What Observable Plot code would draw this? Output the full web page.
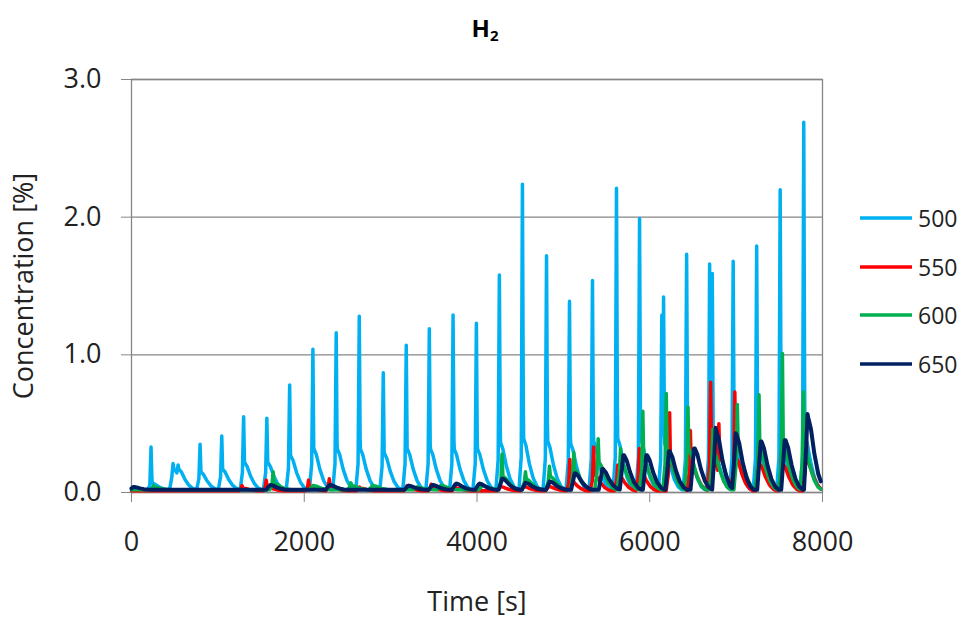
<!DOCTYPE html>
<html><head><meta charset="utf-8">
<script src="https://cdn.jsdelivr.net/npm/d3@7"></script>
<script src="https://cdn.jsdelivr.net/npm/@observablehq/plot@0.6"></script>
<style>
body{margin:0;background:#fff;font-family:"Open Sans",sans-serif;}
#wrap{position:relative;width:963px;height:618px;overflow:hidden;background:#fff;}
#title{position:absolute;left:0;top:16px;width:970px;text-align:center;font-weight:bold;font-size:24px;line-height:1;color:#000;}
#title sub{font-size:15px;vertical-align:-4px;line-height:1;}
.item{position:absolute;left:858px;height:30px;display:flex;align-items:center;font-size:23px;color:#222;white-space:nowrap;}
.item svg{margin-right:4px;}
#chart{position:absolute;left:0;top:0;}
</style>
</head><body>
<div id="wrap">
  <div id="chart"></div>
  <div id="title">H<sub>2</sub></div>
</div>
<script>
// ---- series ----
const seriesNames  = ["500", "550", "600", "650"];
const seriesColors = ["#00B0F0", "#FF0000", "#00B050", "#002060"];
const baseLevels   = [0.02, 0.012, 0.02, 0.02];

// ---- axis ticks ----
const xTicks = [0, 2000, 4000, 6000, 8000];
const yTicks = [0, 1, 2, 3];
const tEnd = 7980;

// ---- pulse shapes (dt in s, fraction) ----
const spikeShape = [[-14, 0], [0, 1], [14, 0]];
const bodyShape  = [[-40, 0], [-15, 0.6], [10, 1], [40, 0.85], [80, 0.5], [125, 0.22], [170, 0.06], [210, 0]];

// ---- 500 ----
const t500 = [226, 481, 539, 794, 1045, 1298, 1567, 1831, 2100, 2370, 2637, 2915, 3181, 3448, 3723, 3993, 4259, 4526, 4805, 5071, 5337, 5615, 5882, 6140, 6160, 6427, 6693, 6724, 6966, 7238, 7510, 7783];
const peak500 = [0.33, 0.21, 0.20, 0.35, 0.41, 0.55, 0.54, 0.78, 1.04, 1.16, 1.28, 0.87, 1.07, 1.19, 1.29, 1.23, 1.58, 2.24, 1.72, 1.39, 1.54, 2.21, 1.99, 1.29, 1.42, 1.73, 1.66, 1.59, 1.68, 1.79, 2.20, 2.69];
const body500 = [0.05, 0.15, 0.15, 0.13, 0.15, 0.2, 0.2, 0.25, 0.3, 0.3, 0.3, 0.27, 0.3, 0.3, 0.3, 0.3, 0.35, 0.38, 0.36, 0.34, 0.36, 0.38, 0.38, 0.34, 0.34, 0.36, 0.36, 0.36, 0.36, 0.36, 0.38, 0.4];

// ---- 550 ----
const t550 = [1280, 1560, 2050, 2290, 2640, 3190, 3470, 3750, 4270, 4540, 4830, 5075, 5350, 5630, 5880, 6230, 6470, 6705, 6800, 6985, 7260, 7530, 7810];
const peak550 = [0.05, 0.09, 0.09, 0.10, 0.04, 0.05, 0.06, 0.04, 0.05, 0.06, 0.06, 0.24, 0.33, 0.20, 0.32, 0.58, 0.45, 0.80, 0.50, 0.73, 0.35, 0.35, 0.45];
const body550 = [0.02, 0.03, 0.03, 0.03, 0.02, 0.02, 0.02, 0.02, 0.03, 0.03, 0.03, 0.08, 0.12, 0.12, 0.15, 0.2, 0.2, 0.3, 0.25, 0.25, 0.2, 0.2, 0.22];

// ---- 600 ----
const t600 = [255, 1640, 2100, 2540, 2790, 3300, 3580, 4060, 4290, 4561, 4839, 5121, 5403, 5662, 5920, 6191, 6442, 6731, 7014, 7265, 7536, 7779];
const peak600 = [0.05, 0.15, 0.05, 0.07, 0.05, 0.04, 0.05, 0.05, 0.28, 0.15, 0.19, 0.29, 0.39, 0.32, 0.59, 0.72, 0.62, 0.46, 0.64, 0.71, 1.01, 0.73];
const body600 = [0.02, 0.05, 0.03, 0.03, 0.03, 0.02, 0.03, 0.03, 0.1, 0.08, 0.1, 0.15, 0.2, 0.2, 0.22, 0.3, 0.3, 0.28, 0.3, 0.3, 0.32, 0.32];

// ---- 650 ----
const t650 = [20, 1600, 2290, 3200, 3480, 3750, 4020, 4290, 4560, 4840, 5130, 5450, 5693, 5960, 6222, 6512, 6763, 6995, 7284, 7562, 7826];
const peak650 = [0.04, 0.05, 0.05, 0.04, 0.05, 0.06, 0.06, 0.10, 0.07, 0.08, 0.14, 0.17, 0.27, 0.27, 0.30, 0.32, 0.47, 0.43, 0.37, 0.38, 0.57];
const body650 = [0.02, 0.035, 0.035, 0.03, 0.035, 0.045, 0.045, 0.08, 0.05, 0.06, 0.12, 0.15, 0.25, 0.25, 0.28, 0.30, 0.42, 0.40, 0.35, 0.36, 0.52];

const lineWidths = [3.5, 3.5, 3.5, 4];

const eventTimes = [t500, t550, t600, t650];
const eventPeaks = [peak500, peak550, peak600, peak650];
const eventBodies = [body500, body550, body600, body650];

function shapeAt(shape, dt) {
  if (dt <= shape[0][0] || dt >= shape[shape.length - 1][0]) return 0;
  for (let i = 1; i < shape.length; i++) {
    const [x1, y1] = shape[i];
    const [x0, y0] = shape[i - 1];
    if (dt <= x1) return y0 + (y1 - y0) * (dt - x0) / (x1 - x0);
  }
  return 0;
}

const table = seriesNames.map((name, s) => {
  const ts = eventTimes[s], hs = eventPeaks[s], bs = eventBodies[s], base = baseLevels[s];
  const keys = new Set([0, tEnd]);
  ts.forEach(te => {
    spikeShape.forEach(([dt]) => keys.add(te + dt));
    bodyShape.forEach(([dt]) => keys.add(te + dt));
  });
  const times = [...keys].filter(t => t >= 0 && t <= tEnd).sort((a, b) => a - b);
  return times.map(t => {
    let v = 0;
    ts.forEach((te, i) => {
      v = Math.max(v, (hs[i] - base) * shapeAt(spikeShape, t - te), bs[i] * shapeAt(bodyShape, t - te));
    });
    return {series: name, t, v: base + v};
  });
});

const chart = Plot.plot({
  width: 963, height: 618,
  marginLeft: 131, marginRight: 141, marginTop: 79, marginBottom: 126,
  style: {fontFamily: "Open Sans, sans-serif", fontSize: "27px", color: "#222", background: "transparent", overflow: "visible"},
  x: {domain: [0, 8000]},
  y: {domain: [0, 3]},
  marks: [
    Plot.gridY(yTicks, {stroke: "#868686", strokeOpacity: 1, strokeWidth: 1.3}),
    Plot.frame({stroke: "#868686", strokeWidth: 1.3}),
    Plot.axisY(yTicks, {tickFormat: d3.format(".1f"), tickSize: 10, tickPadding: 20, stroke: "#868686", strokeOpacity: 1, fill: "#222",
      label: "Concentration [%]", labelAnchor: "center", labelOffset: 118, labelArrow: "none"}),
    Plot.axisX(xTicks, {tickFormat: d3.format("d"), tickSize: 10, tickPadding: 29, stroke: "#868686", strokeOpacity: 1, fill: "#222",
      label: "Time [s]", labelAnchor: "center", labelOffset: 118, labelArrow: "none"}),
    ...table.map((rows, s) => Plot.line(rows, {x: "t", y: "v", stroke: seriesColors[s], strokeWidth: lineWidths[s], strokeLinejoin: "round"}))
  ]
});
document.getElementById("chart").appendChild(chart);

// legend
const legendTop = 218, legendStep = 48.7;
seriesNames.forEach((name, s) => {
  const d = document.createElement("div");
  d.className = "item";
  d.style.top = (legendTop + s * legendStep - 15) + "px";
  d.innerHTML = `<svg width="56" height="6"><line x1="2" x2="54" y1="3" y2="3" stroke="${seriesColors[s]}" stroke-width="3.5"/></svg><span>${name}</span>`;
  document.getElementById("wrap").appendChild(d);
});
</script>
</body></html>
